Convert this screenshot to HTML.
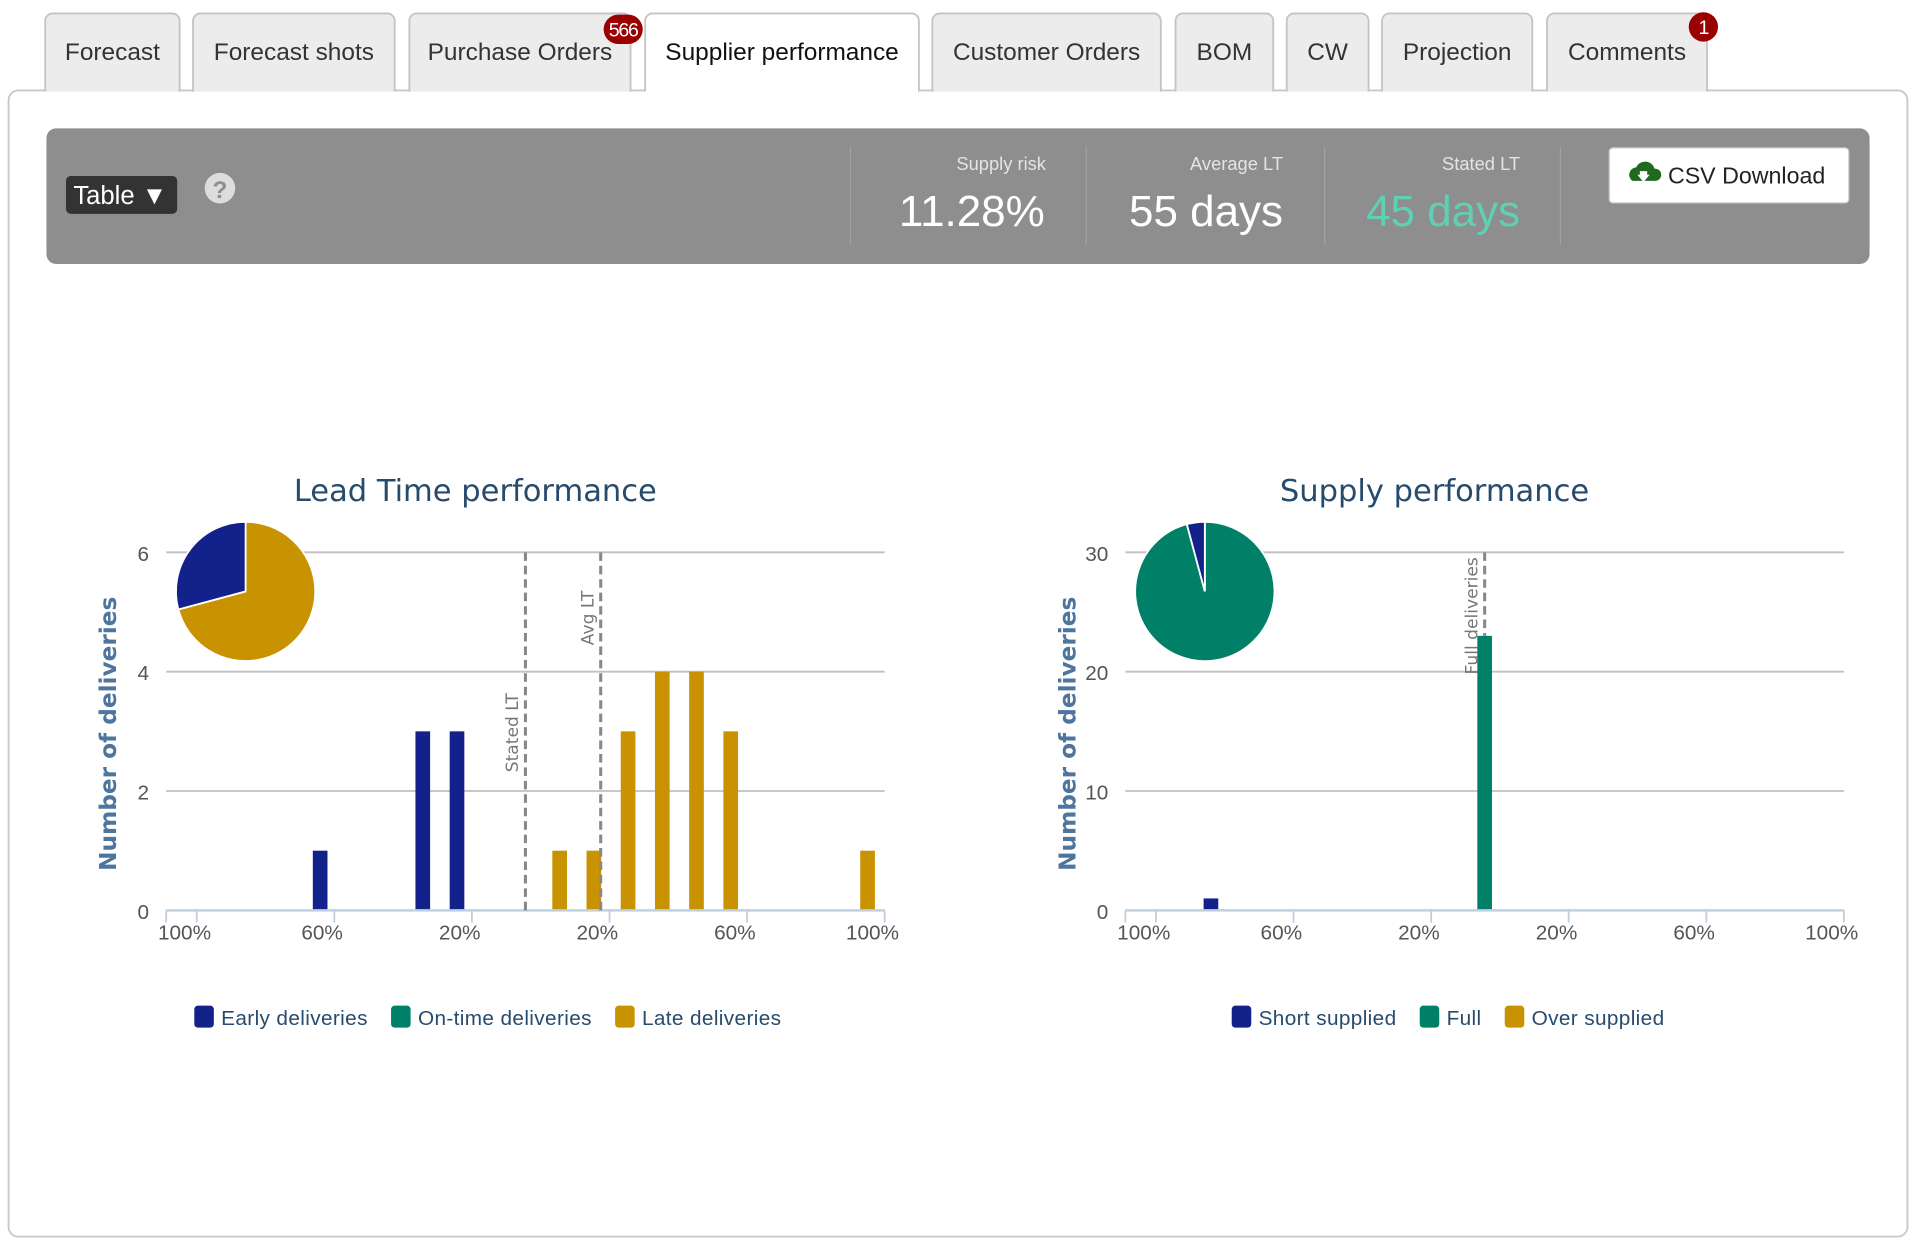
<!DOCTYPE html>
<html><head><meta charset="utf-8"><style>
html,body{margin:0;padding:0;background:#fff;overflow:hidden}
svg{display:block}
text{font-family:"Liberation Sans",sans-serif}
.ct{font-family:"DejaVu Sans","Liberation Sans",sans-serif}
</style></head><body>
<svg id="root" width="1916" height="1248" viewBox="0 0 1568 1021.3" xmlns="http://www.w3.org/2000/svg">
<rect x="7" y="74" width="1554" height="938" rx="8" fill="#fff" stroke="#c8c8c8" stroke-width="1.5"/>
<g id="tabs"></g>
<rect x="38" y="105" width="1492" height="111" rx="8" fill="#8e8e8e"/>
<g>
<rect x="54" y="144" width="91" height="31" rx="4" fill="#333"/>
<text x="60" y="167" font-size="21" fill="#fff">Table ▼</text>
</g>
<g>
<circle cx="180" cy="154" r="12.5" fill="#ddd"/>
<text x="180" y="162" font-size="20" font-weight="bold" fill="#8e8e8e" text-anchor="middle">?</text>
</g>
<g stroke="#a2a2a2" stroke-width="1">
<line x1="696" y1="120" x2="696" y2="200"/><line x1="889" y1="120" x2="889" y2="200"/>
<line x1="1084" y1="120" x2="1084" y2="200"/><line x1="1277" y1="120" x2="1277" y2="200"/>
</g>
<text x="856" y="139" font-size="15" fill="#e4e4e4" text-anchor="end">Supply risk</text>
<text x="855" y="185" font-size="36" fill="#fff" text-anchor="end">11.28%</text>
<text x="1050" y="139" font-size="15" fill="#e4e4e4" text-anchor="end">Average LT</text>
<text x="1050" y="185" font-size="36" fill="#fff" text-anchor="end">55 days</text>
<text x="1244" y="139" font-size="15" fill="#e4e4e4" text-anchor="end">Stated LT</text>
<text x="1244" y="185" font-size="36" fill="#5fd0b2" text-anchor="end">45 days</text>
<g>
<rect x="1317" y="121" width="196" height="45" rx="3" fill="#fff" stroke="#ccc"/>
<path d="M1336 148 a6 6 0 0 1 3 -11 a8 8 0 0 1 15 1 a5 5 0 0 1 1 10 z" fill="#1e6b1e"/>
<path d="M1342 143 h6 v-3 h-6 z M1340 143 l5 6 l5 -6 z" fill="#fff"/>
<text x="1365" y="150" font-size="19" fill="#222">CSV Download</text>
</g>
<g id="chart1"></g>
<g id="chart2"></g>
</svg>
<script>
const ltEarly = [0,0,0,0,1,0,0,3,3,0,0,0,0,0,0,0,0,0,0,0,0];
const ltOnTime = [0,0,0,0,0,0,0,0,0,0,0,0,0,0,0,0,0,0,0,0,0];
const ltLate = [0,0,0,0,0,0,0,0,0,0,0,1,1,3,4,4,3,0,0,0,1];
const ltYTicks = [0,2,4,6];
const xTickLabels = ["100%","60%","20%","20%","60%","100%"];
const ltStated = 10.0;
const ltAvg = 12.2;
const spShort = [0,0,1,0,0,0,0,0,0,0,0,0,0,0,0,0,0,0,0,0,0];
const spFull = [0,0,0,0,0,0,0,0,0,0,23,0,0,0,0,0,0,0,0,0,0];
const spOver = [0,0,0,0,0,0,0,0,0,0,0,0,0,0,0,0,0,0,0,0,0];
const spYTicks = [0,10,20,30];
const spFullLine = 10;

const NS="http://www.w3.org/2000/svg";
function mk(parent,tag,attrs,txt){const e=document.createElementNS(NS,tag);for(const k in attrs)e.setAttribute(k,attrs[k]);if(txt!==undefined)e.textContent=txt;parent.appendChild(e);return e;}

const tabs=[["Forecast",37,147],["Forecast shots",158,323],["Purchase Orders",335,516],["Supplier performance",528,752],["Customer Orders",763,950],["BOM",962,1042],["CW",1053,1120],["Projection",1131,1254],["Comments",1266,1397]];
const tg=document.getElementById('tabs');
tabs.forEach((t,i)=>{
  const active=i===3;
  const g=mk(tg,'g',{});
  
  
  mk(g,'path',{d:`M${t[1]} 75 V17 a6 6 0 0 1 6 -6 H${t[2]-6} a6 6 0 0 1 6 6 V75`,fill:active?'#fff':'#ececec',stroke:'#c4c4c4','stroke-width':1.5});
  if(active) mk(g,'rect',{x:t[1]+1,y:72,width:t[2]-t[1]-2,height:4,fill:'#fff'});
  mk(g,'text',{x:(t[1]+t[2])/2,y:49,'font-size':20,fill:active?'#111':'#333','text-anchor':'middle'},t[0]);
});
function badge(x,y,w,label,name){
  const g=mk(tg,'g',{});
  
  
  mk(g,'rect',{x:x-w/2,y:y-12,width:w,height:24,rx:12,fill:'#9b0000'});
  mk(g,'text',{x:x,y:y+6,'font-size':16,fill:'#fff','text-anchor':'middle','letter-spacing':'-1'},label);
}
badge(510,24,32,"566","purchase-orders-badge");
badge(1394,22,24,"1","comments-badge");

function chart(id,opts){
  const g=document.getElementById(id);
  const x0=opts.x0,x1=opts.x0+588,yb=745,yt=452,n=21,cw=(x1-x0)/n;
  const ymax=opts.yTicks[opts.yTicks.length-1];
  const X=i=>x0+cw*(i+0.5);
  const Y=v=>yb-(yb-yt)*v/ymax;
  const title=mk(g,'text',{x:x0+253,y:410,'font-size':25,fill:'#274b6d','text-anchor':'middle',class:'ct'},opts.title);
  
  
  opts.yTicks.forEach(v=>{
    if(v>0){const l=mk(g,'line',{x1:x0,x2:x1,y1:Y(v),y2:Y(v),stroke:'#c0c0c0','stroke-width':1.5});
    
    }
    const t=mk(g,'text',{x:x0-14,y:Y(v)+7,'font-size':17,fill:'#555','text-anchor':'end'},String(v));
    
    
  });
  const yt2=mk(g,'text',{transform:`translate(${x0-41},${(yb+yt)/2+2}) rotate(-90)`,'font-size':19,'font-weight':'bold',fill:'#4d759e','text-anchor':'middle',class:'ct'},"Number of deliveries");
  
  
  opts.series.forEach(s=>{
    s.data.forEach((v,i)=>{
      if(v<=0)return;
      const r=mk(g,'rect',{x:X(i)-6,y:Y(v),width:12,height:yb-Y(v),fill:s.color});
      
      
    });
  });
  const ax=mk(g,'line',{x1:x0,x2:x1,y1:yb,y2:yb,stroke:'#c0d0e0','stroke-width':2});
  
  
  mk(g,'line',{x1:x0,x2:x0,y1:yb,y2:yb+10,stroke:'#c0d0e0','stroke-width':1.5});
  xTickLabels.forEach((lab,k)=>{
    const tx=x0+25+112.6*k;
    mk(g,'line',{x1:tx,x2:tx,y1:yb,y2:yb+10,stroke:'#c0d0e0','stroke-width':1.5});
    const t=mk(g,'text',{x:tx-10,y:yb+24,'font-size':17,fill:'#555','text-anchor':'middle'},lab);
    
    
  });
  opts.lines.forEach(pl=>{
    const lx=X(pl.pos);
    const ln=mk(g,'line',{x1:lx,x2:lx,y1:yt,y2:pl.y2!==undefined?Y(pl.y2):yb,stroke:'#888','stroke-width':2.5,'stroke-dasharray':'7,4'});
    
    
    const t=mk(g,'text',{transform:`translate(${lx-6},${pl.ty}) rotate(-90)`,'font-size':14,fill:'#777',class:'ct'},pl.label);
    
    
  });
  const cx=x0+65,cy=484,r=57;
  const tot=opts.pie.reduce((a,b)=>a+b.v,0);
  let a=0;
  opts.pie.forEach(p=>{
    const a0=a,a1=a+p.v/tot*2*Math.PI; a=a1;
    if(p.v<=0)return;
    const pt=ang=>[cx+r*Math.sin(ang),cy-r*Math.cos(ang)];
    const [sx,sy]=pt(a0),[ex,ey]=pt(a1);
    const large=(a1-a0)>Math.PI?1:0;
    const s=mk(g,'path',{d:`M${cx} ${cy} L${sx} ${sy} A${r} ${r} 0 ${large} 1 ${ex} ${ey} Z`,fill:p.color,stroke:'#fff','stroke-width':1.5});
    
    
  });
  let lx=opts.legendX;
  opts.series.forEach(s=>{
    const lg=mk(g,'g',{});
    
    
    mk(lg,'rect',{x:lx,y:823,width:16,height:18,rx:3,fill:s.color});
    const t=mk(lg,'text',{x:lx+22,y:839,'font-size':17,fill:'#274b6d','letter-spacing':'0.3'},s.name);
    lx+=22+t.getComputedTextLength()+19;
  });
}
const BLUE='#13218a',TEAL='#008066',GOLD='#c99200';
const sum=a=>a.reduce((x,y)=>x+y,0);
chart('chart1',{x0:136,title:"Lead Time performance",yTicks:ltYTicks,legendX:159,
  series:[{key:'early',name:'Early deliveries',data:ltEarly,color:BLUE},{key:'ontime',name:'On-time deliveries',data:ltOnTime,color:TEAL},{key:'late',name:'Late deliveries',data:ltLate,color:GOLD}],
  lines:[{pos:ltStated,label:'Stated LT',ty:632},{pos:ltAvg,label:'Avg LT',ty:528}],
  pie:[{key:'late',v:sum(ltLate),color:GOLD},{key:'ontime',v:sum(ltOnTime),color:TEAL},{key:'early',v:sum(ltEarly),color:BLUE}]});
chart('chart2',{x0:921,title:"Supply performance",yTicks:spYTicks,legendX:1008,
  series:[{key:'short',name:'Short supplied',data:spShort,color:BLUE},{key:'full',name:'Full',data:spFull,color:TEAL},{key:'over',name:'Over supplied',data:spOver,color:GOLD}],
  lines:[{pos:spFullLine,label:'Full deliveries',ty:552,y2:spFull[spFullLine]}],
  pie:[{key:'full',v:sum(spFull),color:TEAL},{key:'over',v:sum(spOver),color:GOLD},{key:'short',v:sum(spShort),color:BLUE}]});
</script>
</body></html>
